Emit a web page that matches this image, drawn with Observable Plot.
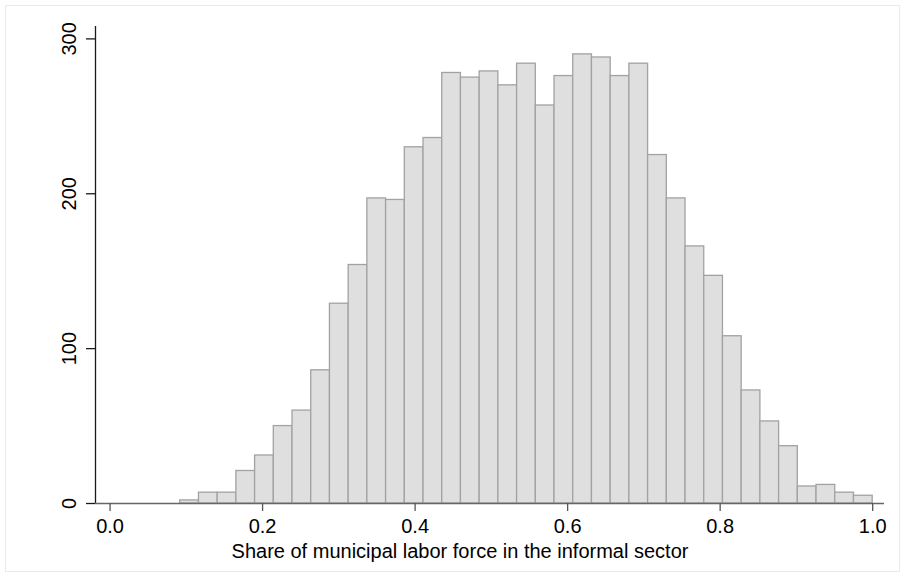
<!DOCTYPE html>
<html><head><meta charset="utf-8">
<script src="https://cdn.jsdelivr.net/npm/d3@7"></script>
<script src="https://cdn.jsdelivr.net/npm/@observablehq/plot@0.6"></script>
<style>
body{margin:0;background:#fff;}
#wrap{position:relative;width:905px;height:577px;}
#border{position:absolute;left:5px;top:5px;width:893px;height:565px;border:1px solid #e6ebed;pointer-events:none;}
svg{position:absolute;left:0;top:0;}
</style></head><body><div id="wrap"><div id="border"></div></div>
<script>
// Histogram: 37 equal-width bins from the data minimum to the maximum
const binStart = 0.092;
const binEnd = 1.0;
const counts = [2, 7, 7, 21, 31, 50, 60, 86, 129, 154,
  197, 196, 230, 236, 278, 275, 279, 270, 284, 257,
  276, 290, 288, 276, 284, 225, 197, 166, 147, 108,
  73, 53, 37, 11, 12, 7, 5];
const xTicks = [0, 0.2, 0.4, 0.6, 0.8, 1.0];
const yTicks = [0, 100, 200, 300];
const xTitle = "Share of municipal labor force in the informal sector";

const binW = (binEnd - binStart) / counts.length;
const bins = counts.map((c, i) => ({x1: binStart + i * binW, x2: binStart + (i + 1) * binW, count: c}));

const xDom = [-0.0191, 1.0155];
const font = "'Liberation Sans', Arial, Helvetica, sans-serif";

const chart = Plot.plot({
  width: 905, height: 577,
  marginLeft: 95, marginRight: 21, marginTop: 26, marginBottom: 74,
  style: {fontFamily: font, background: "transparent", color: "#000"},
  x: {domain: xDom},
  y: {domain: [0, 308]},
  marks: [
    Plot.rectY(bins, {x1: "x1", x2: "x2", y: "count", fill: "#dfdfdf", stroke: "#a2a2a2", strokeWidth: 1.3, inset: 0}),
    Plot.ruleX([xDom[0]], {stroke: "#1a1a1a", strokeWidth: 1.3}),
    Plot.axisY({ticks: yTicks, tickSize: 9, tickRotate: -90, tickPadding: 11, fontSize: 20, label: null, stroke: "#1a1a1a", strokeWidth: 1.3}),
    Plot.ruleY([0], {stroke: "#666", strokeWidth: 1.6}),
    Plot.axisX({ticks: xTicks, tickSize: 8, tickPadding: 7, tickFormat: d3.format(".1f"), fontSize: 20, label: null, stroke: "#555", strokeWidth: 1.3}),
    Plot.text([xTitle], {text: d => d, frameAnchor: "bottom", dx: -30, dy: 40, lineAnchor: "top", fontSize: 20})
  ]
});
document.getElementById("wrap").appendChild(chart);
</script>
</body></html>
